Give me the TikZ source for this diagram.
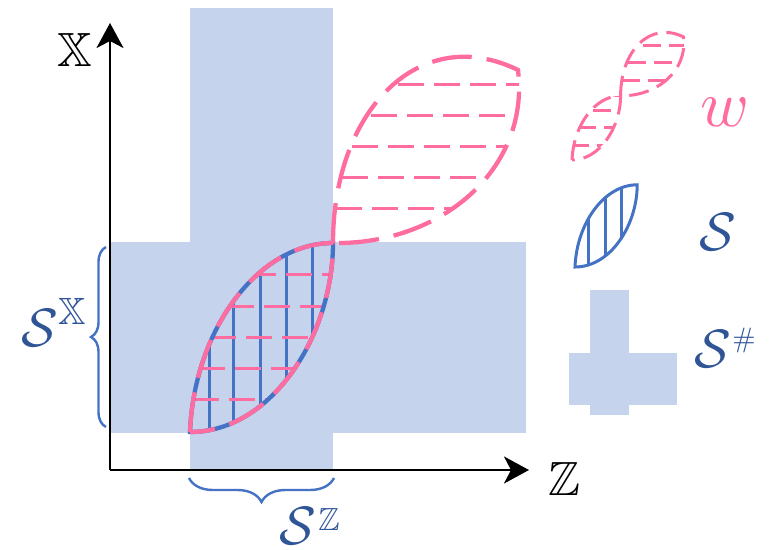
\documentclass[tikz,border=0pt]{standalone}
\usepackage{amssymb,graphicx}
\usetikzlibrary{arrows.meta,decorations.pathreplacing}
\definecolor{fillblue}{RGB}{197,211,236}
\definecolor{lineblue}{RGB}{68,114,196}
\definecolor{pinkc}{RGB}{255,108,160}
\definecolor{darkblue}{RGB}{47,85,151}
% large math symbols, drawn from their 10pt glyphs
\newcommand{\bigmath}[2]{\scalebox{#1}{$#2$}}
\begin{document}
\begin{tikzpicture}[x=1pt,y=-1pt,
  lensSpath/.style={insert path={(190,432) .. controls (194,330) and (258,243) .. (333,243)
      .. controls (333,335) and (272,432) .. (190,432) -- cycle}},
  lensWpath/.style={insert path={(333,243) .. controls (333,110) and (420,22) .. (518,70)
      .. controls (530,170) and (440,245) .. (333,243) -- cycle}},
  pinkoutline/.style={pinkc, line width=4.3pt, dash pattern=on 40pt off 15pt},
  pinkhatch/.style={pinkc, line width=3pt, dash pattern=on 26pt off 10pt},
  bluehatch/.style={lineblue, line width=3pt},
  axis/.style={line width=2.4pt, -{Stealth[length=25pt, width=27pt, inset=7pt]}},
  bracestyle/.style={lineblue, line width=2.4pt, decorate},
  lbl/.style={inner sep=0pt, text=darkblue},
  axlbl/.style={inner sep=0pt}]
\useasboundingbox (0,0) rectangle (776,549);

% the cross-shaped set S#
\fill[fillblue] (190,8) rectangle (333,470);
\fill[fillblue] (110,242) rectangle (526,433);

% axes
\coordinate (o) at (110,470);
\coordinate (ytip) at (110,23);
\coordinate (xtip) at (529,470);
\draw[axis] (o) -- (ytip);
\draw[axis] (o) -- (xtip);
\node[axlbl] (lblX) at (75,50) {\bigmath{4.8}{\mathbb{X}}};
\node[axlbl] (lblZ) at (564,479) {\bigmath{4.8}{\mathbb{Z}}};

% lens S: vertical blue hatching and horizontal pink hatching
\begin{scope}
  \clip[lensSpath];
  \foreach \x in {209,233,260,286,312} \draw[bluehatch] (\x,230) -- (\x,440);
  \foreach \y/\x in {274/250,306/228,337/210,368/199,399/193}
    \draw[pinkhatch] (\x,\y) -- (345,\y);
\end{scope}
\draw[lineblue, line width=4.3pt, lensSpath];
\draw[pinkoutline, lensSpath];

% lens W: horizontal pink hatching
\begin{scope}
  \clip[lensWpath];
  \foreach \y/\x in {84/398,115/371,146/352,177/342,208/336}
    \draw[pinkhatch] (\x,\y) -- (540,\y);
\end{scope}
\draw[pinkoutline, lensWpath];

% braces for the projections
\draw[bracestyle, decoration={brace, amplitude=15pt}] (106,427) -- (106,247);
\draw[bracestyle, decoration={brace, amplitude=24pt}] (334,478) -- (189,478);
\node[lbl] (sX) at (40,328) {\bigmath{5.4}{\mathcal{S}}};
\node[lbl] (sXsup) at (72,311) {\bigmath{3.8}{\mathbb{X}}};
\node[lbl] (sZ) at (298,526) {\bigmath{5.4}{\mathcal{S}}};
\node[lbl] (sZsup) at (329,519) {\bigmath{3.2}{\mathbb{Z}}};

% legend: W
\begin{scope}[shift={(572,160)}, scale=0.34, shift={(-190,-432)}]
  \begin{scope}
    \clip[lensSpath, lensWpath];
    \foreach \y/\x in {94/399,144/355,197/337,241/281,285/252,335/208,388/188}
      \draw[pinkc, line width=3pt, dash pattern=on 18pt off 8pt] (\x,\y) -- (560,\y);
  \end{scope}
  \draw[pinkc, line width=3pt, dash pattern=on 20pt off 9pt, lensSpath];
  \draw[pinkc, line width=3pt, dash pattern=on 20pt off 9pt, lensWpath];
\end{scope}
\node[inner sep=0pt, text=pinkc] (wLbl) at (725,112) {\bigmath{6.6}{w}};

% legend: S
\begin{scope}[shift={(575,267)}, scale=0.435, shift={(-190,-432)}]
  \begin{scope}
    \clip[lensSpath];
    \foreach \x in {222,259,296} \draw[bluehatch] (\x,230) -- (\x,440);
  \end{scope}
  \draw[lineblue, line width=3pt, lensSpath];
\end{scope}
\node[lbl] (sS) at (718,232) {\bigmath{5.4}{\mathcal{S}}};

% legend: S#
\fill[fillblue] (590,290) rectangle (629,415);
\fill[fillblue] (569,353) rectangle (677,405);
\node[lbl] (sH) at (713,349) {\bigmath{5.4}{\mathcal{S}}};
\node[lbl] (sHsup) at (744,340) {\bigmath{2.8}{\#}};
\end{tikzpicture}
\end{document}
